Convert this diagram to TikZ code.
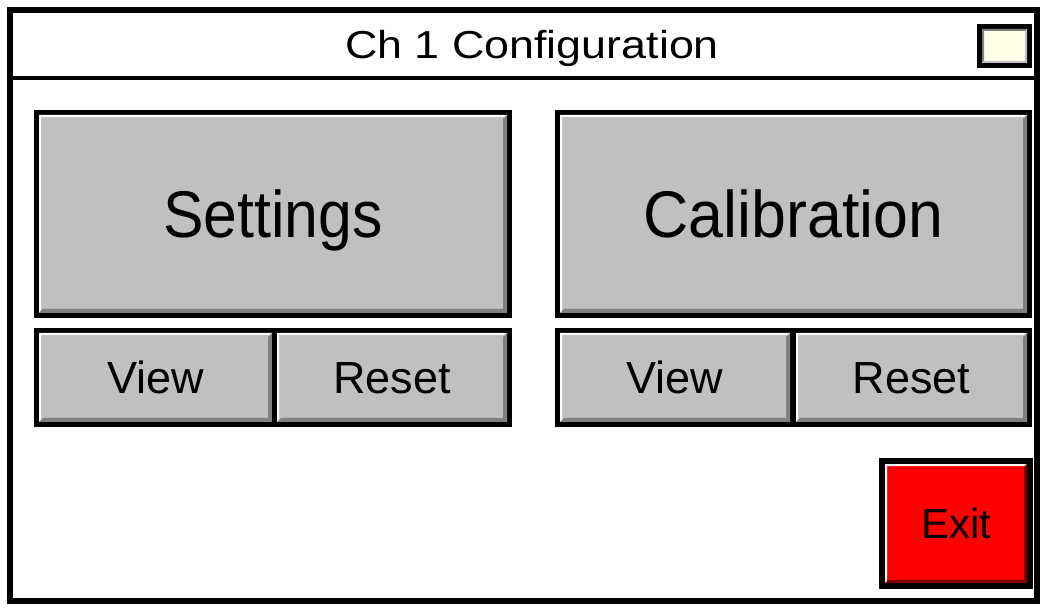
\documentclass[tikz,border=0pt]{standalone}
\usepackage{fontspec}
\setmainfont{Liberation Sans}
\usetikzlibrary{calc}
\definecolor{btngray}{HTML}{C0C0C0}
\definecolor{shadgray}{HTML}{808080}
\definecolor{exitred}{HTML}{FF0000}
\definecolor{exitshad}{HTML}{800000}
\definecolor{lampyellow}{HTML}{FFFFE8}
% #1 node, #2 half border, #3 highlight colour, #4 highlight width, #5 shadow colour, #6 shadow width
\newcommand\bevelbox[6]{%
  \fill[#3] ($(#1.south west)+(#2,-#2)$) -- ($(#1.north west)+(#2,#2)$) -- ($(#1.north east)+(-#2,#2)$)
    -- ($(#1.north east)+(-#2-#4,#2+#4)$) -- ($(#1.north west)+(#2+#4,#2+#4)$) -- ($(#1.south west)+(#2+#4,-#2-#4)$) -- cycle;
  \fill[#5] ($(#1.north east)+(-#2,#2)$) -- ($(#1.south east)+(-#2,-#2)$) -- ($(#1.south west)+(#2,-#2)$)
    -- ($(#1.south west)+(#2+#6,-#2-#6)$) -- ($(#1.south east)+(-#2-#6,-#2-#6)$) -- ($(#1.north east)+(-#2-#6,#2+#6)$) -- cycle;
}
\tikzset{
  btn/.style={draw=black, line width=5pt, fill=btngray, inner sep=0pt, outer sep=0pt},
  bigtxt/.style={font=\fontsize{66}{70}\selectfont, text height=47pt, text depth=0pt},
  smalltxt/.style={font=\fontsize{45}{50}\selectfont, text height=32pt, text depth=0pt},
}
\begin{document}
\begin{tikzpicture}[x=1pt, y=-1pt]
\useasboundingbox (0,0) rectangle (1047,609);
\fill[white] (0,0) rectangle (1047,609);
% window frame
\node[draw=black, line width=6pt, fill=white, minimum width=1027pt, minimum height=591pt, inner sep=0pt, outer sep=0pt] (win) at (523.5,305.5) {};
\coordinate (tl) at (10,78);
\coordinate (tr) at (1037,78);
\draw[line width=4pt] (tl) -- (tr);
% title
\node[font=\fontsize{39}{44}\selectfont, text height=28pt, text depth=0pt, inner sep=0pt] (title) at (532,45) {\scalebox{1.15}[1]{Ch 1 Configuration}};
% lamp box
\node[draw=black, line width=5pt, fill=lampyellow, minimum width=50pt, minimum height=39pt, inner sep=0pt, outer sep=0pt] (lamp) at (1004.5,46) {};
\bevelbox{lamp}{2.5}{shadgray}{2}{btngray}{2}
% big buttons
\node[btn, bigtxt, minimum width=473pt, minimum height=203pt] (set) at (273,214) {\scalebox{0.92}[1]{Settings}};
\bevelbox{set}{2.5}{white}{2}{shadgray}{4}
\node[btn, bigtxt, minimum width=472pt, minimum height=203pt] (cal) at (793.5,214) {\scalebox{0.95}[1]{Calibration}};
\bevelbox{cal}{2.5}{white}{2}{shadgray}{4}
% small buttons
\node[btn, smalltxt, minimum width=238pt, minimum height=94pt] (setview) at (155.5,377.5) {View};
\bevelbox{setview}{2.5}{white}{2}{shadgray}{4}
\node[btn, smalltxt, minimum width=235pt, minimum height=94pt] (setreset) at (392,377.5) {Reset};
\bevelbox{setreset}{2.5}{white}{2}{shadgray}{4}
\node[btn, smalltxt, minimum width=235pt, minimum height=94pt] (calview) at (675,377.5) {View};
\bevelbox{calview}{2.5}{white}{2}{shadgray}{4}
\node[btn, smalltxt, minimum width=236pt, minimum height=94pt] (calreset) at (911.5,377.5) {Reset};
\bevelbox{calreset}{2.5}{white}{2}{shadgray}{4}
% exit
\node[draw=black, line width=6pt, fill=exitred, inner sep=0pt, outer sep=0pt, minimum width=148pt, minimum height=125pt,
      font=\fontsize{42}{46}\selectfont, text height=30pt, text depth=0pt] (exit) at (956,523.5) {Exit};
\bevelbox{exit}{3}{white}{2}{exitshad}{3}
\end{tikzpicture}
\end{document}
